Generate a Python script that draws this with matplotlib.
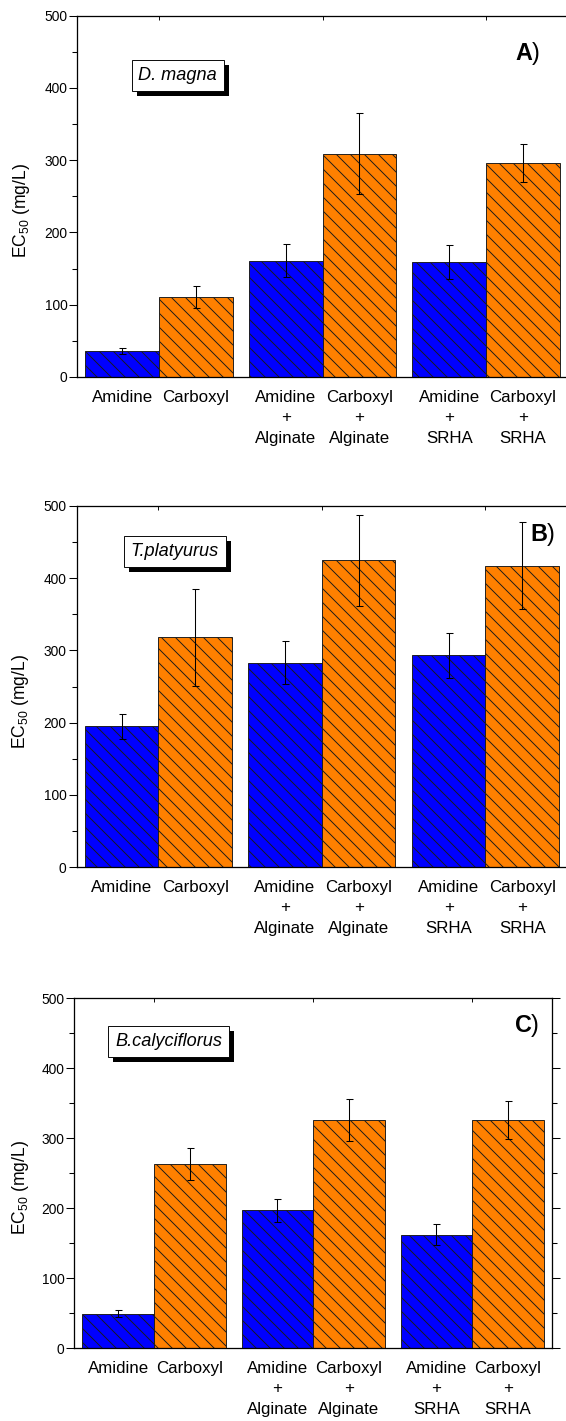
import numpy as np
import matplotlib
matplotlib.use("Agg")
import matplotlib.pyplot as plt
import matplotlib.patheffects as pe
from matplotlib.ticker import MultipleLocator

plt.rcParams['font.family'] = ['Liberation Sans', 'DejaVu Sans']
plt.rcParams['mathtext.fontset'] = 'custom'
plt.rcParams['mathtext.rm'] = 'Liberation Sans'
plt.rcParams['mathtext.it'] = 'Liberation Sans:italic'
plt.rcParams['mathtext.bf'] = 'Liberation Sans:bold'
plt.rcParams['hatch.linewidth'] = 0.8

# data
categories = [("Amidine", "Carboxyl"),
              ("Amidine\n+\nAlginate", "Carboxyl\n+\nAlginate"),
              ("Amidine\n+\nSRHA", "Carboxyl\n+\nSRHA")]
species = ["D. magna", "T.platyurus", "B.calyciflorus"]
panel_tags = ["A", "B", "C"]

amidine_mean = [[36, 161, 159], [195, 283, 293], [49, 197, 162]]
amidine_err = [[4.5, 22.5, 23], [17, 30, 31], [5, 16, 15]]
carboxyl_mean = [[111, 309, 296], [318, 425, 417], [263, 326, 326]]
carboxyl_err = [[15, 56, 26], [67, 63, 60], [23, 30, 27]]

# layout (figure fractions / axes fractions)
axes_rects = [[0.1366, 0.7347, 0.8664, 0.2543],
              [0.1352, 0.3897, 0.8670, 0.2543],
              [0.1316, 0.0512, 0.8431, 0.2463]]
tag_pos = [(0.944, 0.895), (0.976, 0.92), (0.975, 0.921)]
box_pos = [(0.205, 0.835), (0.20, 0.873), (0.197, 0.876)]

blue = '#0000FF'
orange = '#FF8000'
W = 0.45

fig = plt.figure(figsize=(566 / 84, 1421 / 84), dpi=84)

for k in range(3):
    ax = fig.add_axes(axes_rects[k])
    g = np.arange(1, 4)
    ax.bar(g - W / 2, amidine_mean[k], W, color=blue, edgecolor='#1a1a1a',
           linewidth=0.8, hatch='\\\\', zorder=2)
    ax.bar(g + W / 2, carboxyl_mean[k], W, color=orange, edgecolor='#1a1a1a',
           linewidth=0.8, hatch='\\\\', zorder=2)
    ax.errorbar(g - W / 2, amidine_mean[k], yerr=amidine_err[k], fmt='none',
                ecolor='black', elinewidth=0.9, capsize=3, capthick=0.9, zorder=3)
    ax.errorbar(g + W / 2, carboxyl_mean[k], yerr=carboxyl_err[k], fmt='none',
                ecolor='black', elinewidth=0.9, capsize=3, capthick=0.9, zorder=3)

    ax.set_xlim(0.5, 3.5)
    ax.set_ylim(0, 500)
    ax.yaxis.set_major_locator(MultipleLocator(100))
    ax.yaxis.set_minor_locator(MultipleLocator(50))

    # group ticks on top, category labels under each bar
    ax.set_xticks(g)
    ax.set_xticklabels([])
    centers = np.ravel(np.column_stack([g - W / 2, g + W / 2]))
    labels = [lab for pair in categories for lab in pair]
    ax.set_xticks(centers, minor=True)
    ax.set_xticklabels(labels, minor=True, fontsize=14.5, linespacing=1.45)
    ax.tick_params(axis='x', which='major', bottom=False, top=True,
                   direction='in', length=3, width=0.8)
    ax.tick_params(axis='x', which='minor', bottom=True, top=False,
                   length=0, pad=11)

    ax.tick_params(axis='y', which='major', left=True, right=True, direction='out',
                   length=6.5, width=0.9, labelsize=11.8, pad=2)
    ax.tick_params(axis='y', which='minor', left=True, right=True, direction='out',
                   length=4, width=0.9)
    for s in ax.spines.values():
        s.set_linewidth(1.1)

    ax.set_ylabel("EC$_{50}$ (mg/L)", fontsize=15)
    ax.yaxis.set_label_coords(-0.092, 0.46)

    ax.text(tag_pos[k][0], tag_pos[k][1], r"$\mathbf{%s}$)" % panel_tags[k],
            transform=ax.transAxes, ha='right', va='center', fontsize=20)

    bx, by = box_pos[k]
    t = ax.text(bx, by, species[k], transform=ax.transAxes,
                ha='center', va='center', fontsize=15.5, style='italic',
                color='black', zorder=5,
                bbox=dict(boxstyle='square,pad=0.38', fc='white', ec='black', lw=0.8))
    # drop shadow behind the label box
    t.get_bbox_patch().set_path_effects([
        pe.SimplePatchShadow(offset=(4.3, -4.3), shadow_rgbFace='black', alpha=1.0),
        pe.Normal()])

fig.savefig("out.png", dpi=84)
